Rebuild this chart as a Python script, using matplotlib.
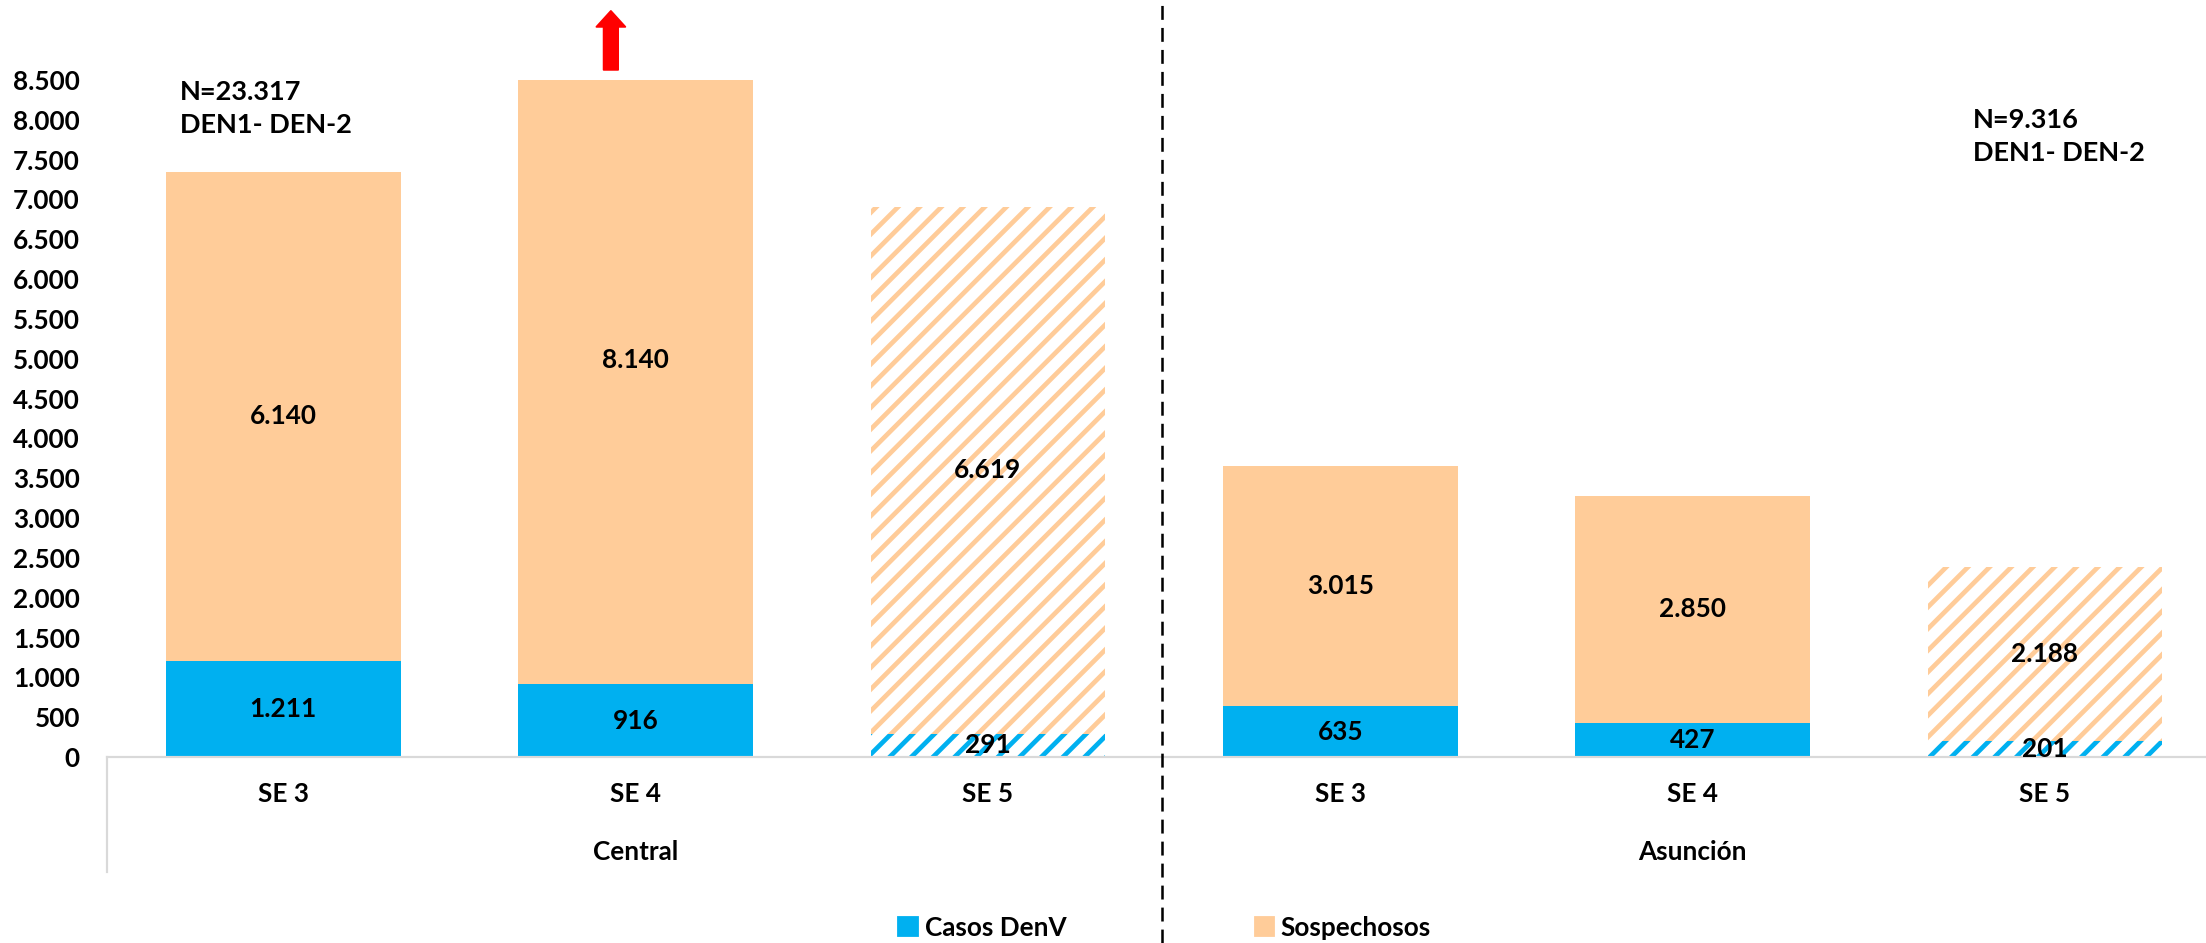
import matplotlib.pyplot as plt
import matplotlib.transforms as mtransforms
from matplotlib.patches import Patch
from matplotlib.lines import Line2D
import numpy as np

groups = ['Central', 'Asunción']
weeks = ['SE 3', 'SE 4', 'SE 5']
casos = [1211, 916, 291, 635, 427, 201]
sospechosos = [6140, 8140, 6619, 3015, 2850, 2188]
provisional = [False, False, True, False, False, True]
n_labels = ['N=23.317\nDEN1- DEN-2', 'N=9.316\nDEN1- DEN-2']
yticks = np.arange(0, 8501, 500)

blue = '#00B0F0'
peach = '#FFCC99'

plt.rcParams['font.family'] = ['Lato', 'DejaVu Sans']
plt.rcParams['font.weight'] = 'bold'
plt.rcParams['font.size'] = 14.5
plt.rcParams['hatch.linewidth'] = 2.6


def fmt(v):
    return f'{v:,}'.replace(',', '.')


fig = plt.figure(figsize=(2206 / 130, 943 / 130), dpi=130)
ax = fig.add_axes([107 / 2206, 186 / 943, 1 - 107 / 2206, 677 / 943])

x = np.arange(len(casos))
w = 0.666
for i in x:
    if provisional[i]:
        ax.bar(i, casos[i], w, facecolor='white', edgecolor=blue, hatch='//', lw=0)
        ax.bar(i, sospechosos[i], w, bottom=casos[i], facecolor='white',
               edgecolor=peach, hatch='//', lw=0)
    else:
        ax.bar(i, casos[i], w, color=blue, lw=0)
        ax.bar(i, sospechosos[i], w, bottom=casos[i], color=peach, lw=0)
    ax.text(i, casos[i] / 2, fmt(casos[i]), ha='center', va='center', fontweight='bold')
    ax.text(i, casos[i] + sospechosos[i] / 2, fmt(sospechosos[i]), ha='center',
            va='center', fontweight='bold')

ax.set_xlim(-0.5, 5.457)
ax.set_ylim(0, 8500)
ax.set_yticks(yticks)
ax.set_yticklabels([fmt(v) for v in yticks])
ax.set_xticks(x)
ax.set_xticklabels(weeks * 2)
ax.tick_params(axis='both', length=0)
ax.tick_params(axis='x', pad=14)
ax.tick_params(axis='y', pad=15)
for s in ['top', 'right', 'left']:
    ax.spines[s].set_visible(False)
ax.spines['bottom'].set_color('#D9D9D9')
ax.spines['bottom'].set_linewidth(1.2)

# group labels under the week labels
trans = mtransforms.blended_transform_factory(ax.transData, fig.transFigure)
ax.text(1, 91 / 943, groups[0], transform=trans, ha='center', va='center')
ax.text(4, 91 / 943, groups[1], transform=trans, ha='center', va='center')

# N annotations
ax.text(0.0349, 1.0, n_labels[0], transform=ax.transAxes, ha='left', va='top',
        fontsize=15, linespacing=1.45)
ax.text(0.8891, 0.958, n_labels[1], transform=ax.transAxes, ha='left', va='top',
        fontsize=15, linespacing=1.45)

# red arrow above the clipped bar
xa = ax.get_xaxis_transform()
ax.annotate('', xy=(0.93, 1.102), xytext=(0.93, 1.015), xycoords=xa, textcoords=xa,
            annotation_clip=False,
            arrowprops=dict(arrowstyle='simple,head_width=2.0,head_length=1.1,tail_width=1.0',
                            mutation_scale=8, color='red', shrinkA=0, shrinkB=0))

# separators
fig.add_artist(Line2D([1162 / 2206, 1162 / 2206], [0, 1], color='black', lw=1.4,
                      dashes=(5.5, 3.2)))
fig.add_artist(Line2D([107 / 2206, 107 / 2206], [71 / 943, 186 / 943], color='#D9D9D9',
                      lw=1.2))

handles = [Patch(color=blue, label='Casos DenV'), Patch(color=peach, label='Sospechosos')]
fig.legend(handles=handles, loc='center', bbox_to_anchor=(0.528, 0.016), ncol=2,
           frameon=False, handlelength=0.75, handleheight=0.75, handletextpad=0.25,
           columnspacing=7.2)

fig.savefig('out.png', dpi=130)
